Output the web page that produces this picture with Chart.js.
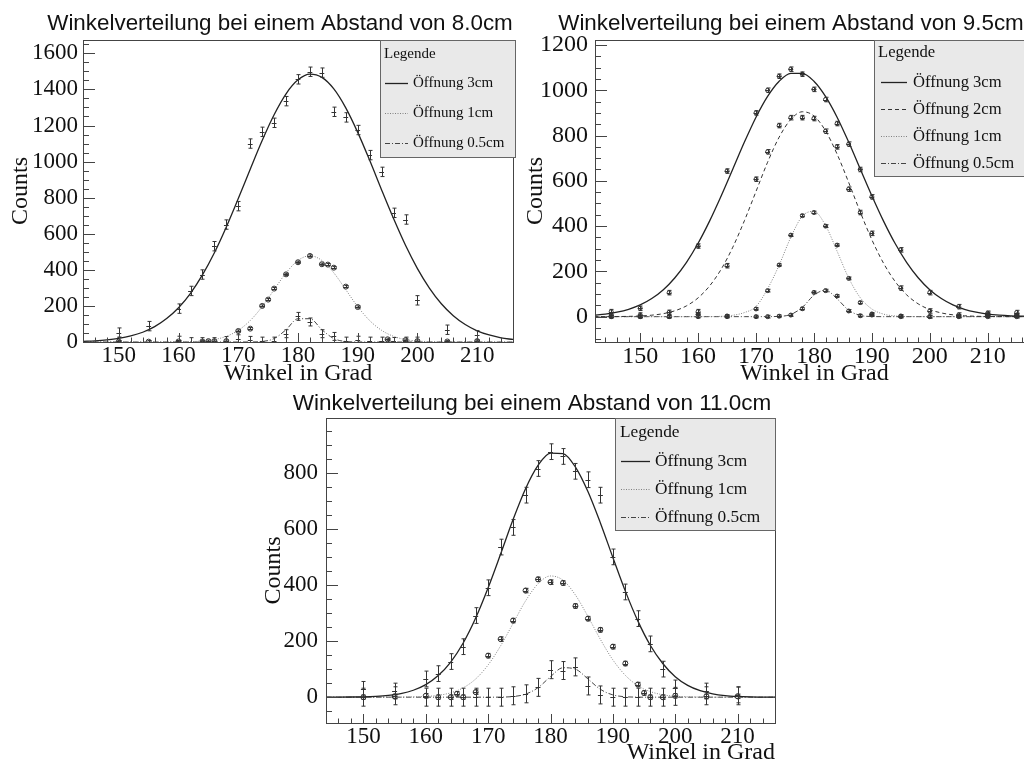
<!DOCTYPE html>
<html>
<head>
<meta charset="utf-8">
<title>Winkelverteilung</title>
<script src="https://cdn.jsdelivr.net/npm/chart.js@4.4.1/dist/chart.umd.min.js"></script>
<style>
  html, body { margin: 0; padding: 0; background: #fff; }
  body { width: 1024px; height: 767px; overflow: hidden; position: relative; }
  canvas { position: absolute; }
</style>
</head>
<body>
<canvas id="c1" width="560" height="390" style="left:0;top:0"></canvas>
<canvas id="c2" width="540" height="390" style="left:520px;top:0"></canvas>
<canvas id="c3" width="564" height="382" style="left:250px;top:385px"></canvas>
<script>
// Tick labels
const xTicks = [150, 160, 170, 180, 190, 200, 210];
const yTicks1 = [0, 200, 400, 600, 800, 1000, 1200, 1400, 1600];
const yTicks2 = [0, 200, 400, 600, 800, 1000, 1200];
const yTicks3 = [0, 200, 400, 600, 800];

// Fit grids (degrees)
const gridA = [144,146,148,150,152,154,156,158,160,162,164,166,168,170,172,174,176,178,180,182,184,186,188,190,192,194,196,198,200,202,204,206,208,210,212,214,216];
const gridB = [142,144,146,148,150,152,154,156,158,160,162,164,166,168,170,172,174,176,178,180,182,184,186,188,190,192,194,196,198,200,202,204,206,208,210,212,214,216,218];

// --- Abstand 8.0cm ---
const fit1_3  = [3.5,6.4,11.5,20,33.5,54,85,130,190,270,372,495,638,795,958,1117,1260,1376,1453,1485,1467,1403,1298,1162,1007,843,684,536,407,299,212,146,97,62,39,23,14];
const fit1_1  = [0,0,0,0,0,0,0,0.2,0.6,1.8,5.3,13.6,31.4,64.7,119,196,290,383,452,478,452,383,290,196,119,64.7,31.4,13.6,5.3,1.8,0.6,0.2,0,0,0,0,0];
const fit1_05 = [0,0,0,0,0,0,0,0,0,0,0,0,0,0,0.2,2.8,19,68,129,129,68,19,2.8,0.2,0,0,0,0,0,0,0,0,0,0,0,0,0];
const x1_3  = [150,155,160,162,164,166,168,170,172,174,176,178,180,182,184,186,188,190,192,194,196,198,200,205,210];
const d1_3  = [52,88,185,283,374,531,651,753,1100,1165,1215,1335,1456,1498,1493,1276,1245,1175,1036,943,716,679,231,68,37];
const x1_1  = [150,155,160,164,165,166,168,170,172,174,175,176,178,180,182,184,185,186,188,190,195,198,200,205,210];
const d1_1  = [2,2,3,3,5,5,5,61,74,200,235,296,375,442,477,431,429,412,307,194,15,10,5,3,5];
const x1_05 = [150,160,162,164,166,168,170,172,174,176,178,180,182,184,186,188,190,192,194,196,198,200];
const d1_05 = [5,10,2,2,2,8,18,9,5,5,46,142,111,46,31,5,10,5,5,3,5,5];
const err1  = [26, 6, 22];

// --- Abstand 9.5cm ---
const fit2_3  = [6.6,11.5,19.8,32.5,51.8,79.9,119,172,240,324,423,534,652,771,881,973,1040,1075,1075,1040,973,881,771,652,534,423,324,240,172,119,79.9,51.8,32.5,19.8,11.5,6.6,3.6,1.9,1.0];
const fit2_2  = [0,0.2,0.5,1.3,3.0,6.5,13.3,26,47.7,82.8,136,210,307,424,553,682,793,871,905,887,821,718,593,462,340,237,156,96.6,56.6,31.3,16.4,8.1,3.8,1.7,0.7,0.3,0.1,0,0];
const fit2_1  = [0,0,0,0,0,0,0,0,0,0,0.3,1.5,6.1,18,45,123,228,350,444,465,403,289,171,83.8,33.9,11.3,3.1,0.7,0.1,0,0,0,0,0,0,0,0,0,0];
const fit2_05 = [0,0,0,0,0,0,0,0,0,0,0,0,0,0,0,0.1,1.2,9.7,41,94.5,117,78.6,28.5,5.6,0.6,0,0,0,0,0,0,0,0,0,0,0,0,0,0];
const x2    = [145,150,155,160,165,170,172,174,176,178,180,182,184,186,188,190,195,200,205,210,215];
const d2_3  = [22,37,106,312,643,900,1000,1062,1093,1071,1004,959,853,762,650,529,295,106,44,15,18];
const d2_2  = [7,7,19,22,225,607,728,844,879,879,875,819,750,563,460,368,126,25,7,10,5];
const d2_1  = [0,0,0,10,3,34,115,228,360,446,460,400,316,169,62,12,3,0,2,7,7];
const d2_05 = [0,0,0,0,0,0,0,2,7,35,107,115,91,25,4,7,0,0,0,0,0];
const err2  = [10, 10, 6, 6];

// --- Abstand 11.0cm ---
const fit3_3  = [0.1,0.2,0.6,1.3,3.0,6.4,12.9,24.7,44.8,77,125,193,282,390,510,633,743,826,870,868,820,733,621,498,378,272,185,120,73,42,23,12,5.9,2.8,1.2,0.5,0.2];
const fit3_1  = [0,0,0,0,0,0,0.2,0.9,2.5,6.6,15.6,33.5,65,115,183,263,343,404,432,417,364,288,206,133,78,41,20,8.6,3.4,1.2,0.4,0,0,0,0,0,0];
const fit3_05 = [0,0,0,0,0,0,0,0,0,0,0,0,0,0,0.3,2.3,10.7,34,73,105,100,65,28,8.1,1.6,0.2,0,0,0,0,0,0,0,0,0,0,0];
const x3    = [150,155,160,162,164,166,168,170,172,174,176,178,180,182,184,186,188,190,192,194,196,198,200,205,210];
const d3_3  = [28,22,65,84,127,180,291,390,535,605,720,815,875,858,805,775,720,500,375,280,190,100,33,22,8];
const x3_1  = [150,155,160,162,164,165,166,168,170,172,174,176,178,180,182,184,186,188,190,192,194,195,196,198,200,205,210];
const d3_1  = [0,3,5,0,0,12,0,18,148,207,273,380,420,410,407,325,280,240,180,120,45,15,0,0,5,3,3];
const d3_05 = [0,5,0,0,0,0,0,0,0,5,12,35,98,95,108,40,8,0,0,0,0,0,3,5,5];
const err3  = [28, 8, 32];

const SERIF = '"Liberation Serif", "Times New Roman", serif';
const SANS = '"Liberation Sans", Arial, sans-serif';

const lineStyles = {
    '3cm':   { color: '#222', width: 1.3, dash: [] },
    '2cm':   { color: '#333', width: 1, dash: [4, 3] },
    '1cm':   { color: '#808080', width: 1, dash: [1, 1.5] },
    '0.5cm': { color: '#444', width: 1, dash: [5, 2, 1, 2] }
};

// Pad title, centred on the pad rather than on the frame
const rootTitle = {
    id: 'rootTitle',
    afterDraw(chart, args, o) {
        const ctx = chart.ctx;
        ctx.save();
        ctx.font = o.size + 'px ' + SANS;
        ctx.fillStyle = '#111';
        ctx.textAlign = 'center';
        ctx.textBaseline = 'alphabetic';
        ctx.fillText(o.text, o.cx, o.baseline);
        ctx.restore();
    }
};

// Frame and inward ticks, ROOT style
const rootAxes = {
    id: 'rootAxes',
    afterDraw(chart) {
        const { ctx, chartArea: a, scales: { x, y } } = chart;
        ctx.save();
        ctx.strokeStyle = '#444';
        ctx.lineWidth = 1;
        ctx.strokeRect(Math.round(a.left) + 0.5, Math.round(a.top) + 0.5,
            Math.round(a.right - a.left), Math.round(a.bottom - a.top));
        ctx.beginPath();
        for (let v = Math.ceil(x.min / 2) * 2; v <= x.max; v += 2) {
            const px = Math.round(x.getPixelForValue(v)) + 0.5;
            const len = v % 10 === 0 ? 9 : 4.5;
            ctx.moveTo(px, a.bottom);
            ctx.lineTo(px, a.bottom - len);
        }
        for (let v = Math.ceil(y.min / 50) * 50; v <= y.max; v += 50) {
            const py = Math.round(y.getPixelForValue(v)) + 0.5;
            const len = v % 200 === 0 ? 12 : 6;
            ctx.moveTo(a.left, py);
            ctx.lineTo(a.left + len, py);
        }
        ctx.stroke();
        ctx.restore();
    }
};

// Error bars for the measured points
const errorBars = {
    id: 'errorBars',
    afterDatasetsDraw(chart) {
        const { ctx, chartArea: a, scales: { x, y } } = chart;
        ctx.save();
        ctx.beginPath();
        ctx.rect(a.left, a.top, a.right - a.left, a.bottom - a.top);
        ctx.clip();
        ctx.strokeStyle = '#333';
        ctx.lineWidth = 1;
        chart.data.datasets.forEach(ds => {
            if (!ds.errY) return;
            ctx.beginPath();
            ds.data.forEach(p => {
                const px = Math.round(x.getPixelForValue(p.x)) + 0.5;
                const py = Math.round(y.getPixelForValue(p.y)) + 0.5;
                const top = y.getPixelForValue(p.y + ds.errY);
                const bot = y.getPixelForValue(p.y - ds.errY);
                const l = x.getPixelForValue(p.x - ds.errX);
                const r = x.getPixelForValue(p.x + ds.errX);
                ctx.moveTo(px, top); ctx.lineTo(px, bot);
                ctx.moveTo(px - 2, top); ctx.lineTo(px + 2, top);
                ctx.moveTo(px - 2, bot); ctx.lineTo(px + 2, bot);
                ctx.moveTo(l, py); ctx.lineTo(r, py);
            });
            ctx.stroke();
        });
        ctx.restore();
    }
};

// Grey legend box with header
const rootLegend = {
    id: 'rootLegend',
    afterDraw(chart, args, o) {
        const ctx = chart.ctx;
        ctx.save();
        ctx.fillStyle = '#e9e9e9';
        ctx.fillRect(o.x, o.y, o.w, o.h);
        ctx.strokeStyle = '#666';
        ctx.lineWidth = 1;
        ctx.strokeRect(o.x + 0.5, o.y + 0.5, o.w, o.h);
        ctx.font = o.size + 'px ' + SERIF;
        ctx.fillStyle = '#111';
        ctx.textBaseline = 'middle';
        ctx.fillText('Legende', o.x + o.hx, o.y + o.rows[0]);
        chart.data.datasets.filter(d => d.fit).forEach((d, k) => {
            const yy = Math.round(o.y + o.rows[k + 1]) + 0.5;
            ctx.strokeStyle = d.borderColor;
            ctx.lineWidth = d.borderWidth;
            ctx.setLineDash(d.borderDash);
            ctx.beginPath();
            ctx.moveTo(o.x + o.lx0, yy);
            ctx.lineTo(o.x + o.lx1, yy);
            ctx.stroke();
            ctx.setLineDash([]);
            ctx.fillText(d.label, o.x + o.tx, yy);
        });
        ctx.restore();
    }
};

function rootChart(id, cfg) {
    const datasets = [];
    cfg.series.forEach(s => {
        const st = lineStyles[s.key];
        datasets.push({
            type: 'line', label: 'Öffnung ' + s.key, fit: true,
            data: cfg.grid.map((gx, i) => ({ x: gx, y: s.fit[i] })),
            borderColor: st.color, borderWidth: st.width, borderDash: st.dash,
            pointRadius: 0, cubicInterpolationMode: 'monotone', fill: false
        });
        datasets.push({
            type: 'scatter', label: 'Messung ' + s.key,
            data: s.x.map((px, i) => ({ x: px, y: s.y[i] })),
            errY: s.err, errX: 0.4,
            pointRadius: s.marker, borderColor: '#333',
            backgroundColor: 'rgba(0,0,0,0)', borderWidth: 1
        });
    });
    return new Chart(document.getElementById(id), {
        type: 'scatter',
        data: { datasets },
        options: {
            responsive: false,
            animation: false,
            events: [],
            layout: { padding: cfg.pad },
            plugins: {
                legend: { display: false },
                tooltip: { enabled: false },
                title: { display: false },
                rootTitle: cfg.title,
                rootLegend: cfg.legend
            },
            scales: {
                x: {
                    type: 'linear', min: cfg.xMin, max: cfg.xMax,
                    afterFit: s => { s.height = cfg.xH; },
                    afterBuildTicks: s => { s.ticks = xTicks.map(v => ({ value: v })); },
                    grid: { display: false, drawTicks: false },
                    border: { display: false },
                    ticks: {
                        padding: cfg.xTickPad, color: '#111', autoSkip: false, maxRotation: 0,
                        font: { family: SERIF, size: cfg.tickSize }, callback: v => String(v)
                    },
                    title: {
                        display: true, text: 'Winkel in Grad', align: cfg.xAlign, color: '#111',
                        font: { family: SERIF, size: 24 }, padding: 0
                    }
                },
                y: {
                    type: 'linear', min: cfg.yMin, max: cfg.yMax,
                    afterFit: s => { s.width = cfg.yW; },
                    afterBuildTicks: s => { s.ticks = cfg.yTicks.map(v => ({ value: v })); },
                    grid: { display: false, drawTicks: false },
                    border: { display: false },
                    ticks: {
                        padding: cfg.yTickPad, color: '#111', autoSkip: false,
                        font: { family: SERIF, size: cfg.tickSize }, callback: v => String(v)
                    },
                    title: {
                        display: true, text: 'Counts', color: '#111',
                        font: { family: SERIF, size: 24 }, padding: { top: cfg.yTitlePad, bottom: 0 }
                    }
                }
            }
        },
        plugins: [rootAxes, errorBars, rootLegend, rootTitle]
    });
}

rootChart('c1', {
    title: { text: 'Winkelverteilung bei einem Abstand von 8.0cm', size: 22.4, cx: 280, baseline: 30 },
    grid: gridA, xMin: 144, xMax: 216, yMin: 0, yMax: 1674, yTicks: yTicks1,
    pad: { left: 0, right: 47, top: 40, bottom: 2 },
    xH: 46, yW: 83,
    tickSize: 23, xTickPad: 0, yTickPad: 5, yTitlePad: 6, xAlign: 'center',
    legend: { x: 380, y: 40, w: 135, h: 117, size: 15, hx: 4, rows: [14, 43, 73, 103], lx0: 5, lx1: 28, tx: 33 },
    series: [
        { key: '3cm', fit: fit1_3, x: x1_3, y: d1_3, err: err1[0], marker: 0 },
        { key: '1cm', fit: fit1_1, x: x1_1, y: d1_1, err: err1[1], marker: 2.5 },
        { key: '0.5cm', fit: fit1_05, x: x1_05, y: d1_05, err: err1[2], marker: 0 }
    ]
});

rootChart('c2', {
    title: { text: 'Winkelverteilung bei einem Abstand von 9.5cm', size: 22.4, cx: 271, baseline: 30 },
    grid: gridB, xMin: 142.2, xMax: 218, yMin: -112, yMax: 1222, yTicks: yTicks2,
    pad: { left: 0, right: 26, top: 40, bottom: 2 },
    xH: 46, yW: 75,
    tickSize: 24, xTickPad: 0, yTickPad: 7, yTitlePad: 1, xAlign: 'center',
    legend: { x: 354, y: 40, w: 200, h: 136, size: 16.6, hx: 4, rows: [13, 42, 69, 96, 123], lx0: 7, lx1: 33, tx: 39 },
    series: [
        { key: '3cm', fit: fit2_3, x: x2, y: d2_3, err: err2[0], marker: 2 },
        { key: '2cm', fit: fit2_2, x: x2, y: d2_2, err: err2[1], marker: 2 },
        { key: '1cm', fit: fit2_1, x: x2, y: d2_1, err: err2[2], marker: 2 },
        { key: '0.5cm', fit: fit2_05, x: x2, y: d2_05, err: err2[3], marker: 2 }
    ]
});

rootChart('c3', {
    title: { text: 'Winkelverteilung bei einem Abstand von 11.0cm', size: 22.5, cx: 282, baseline: 25 },
    grid: gridA, xMin: 144, xMax: 216, yMin: -92, yMax: 995, yTicks: yTicks3,
    pad: { left: 0, right: 39, top: 33, bottom: 0 },
    xH: 44, yW: 76,
    tickSize: 23, xTickPad: 0, yTickPad: 8, yTitlePad: 9, xAlign: 'end',
    legend: { x: 365, y: 33, w: 160, h: 112, size: 17.3, hx: 5, rows: [14, 43, 71, 99], lx0: 6, lx1: 35, tx: 40 },
    series: [
        { key: '3cm', fit: fit3_3, x: x3, y: d3_3, err: err3[0], marker: 0 },
        { key: '1cm', fit: fit3_1, x: x3_1, y: d3_1, err: err3[1], marker: 2.5 },
        { key: '0.5cm', fit: fit3_05, x: x3, y: d3_05, err: err3[2], marker: 0 }
    ]
});
</script>
</body>
</html>
